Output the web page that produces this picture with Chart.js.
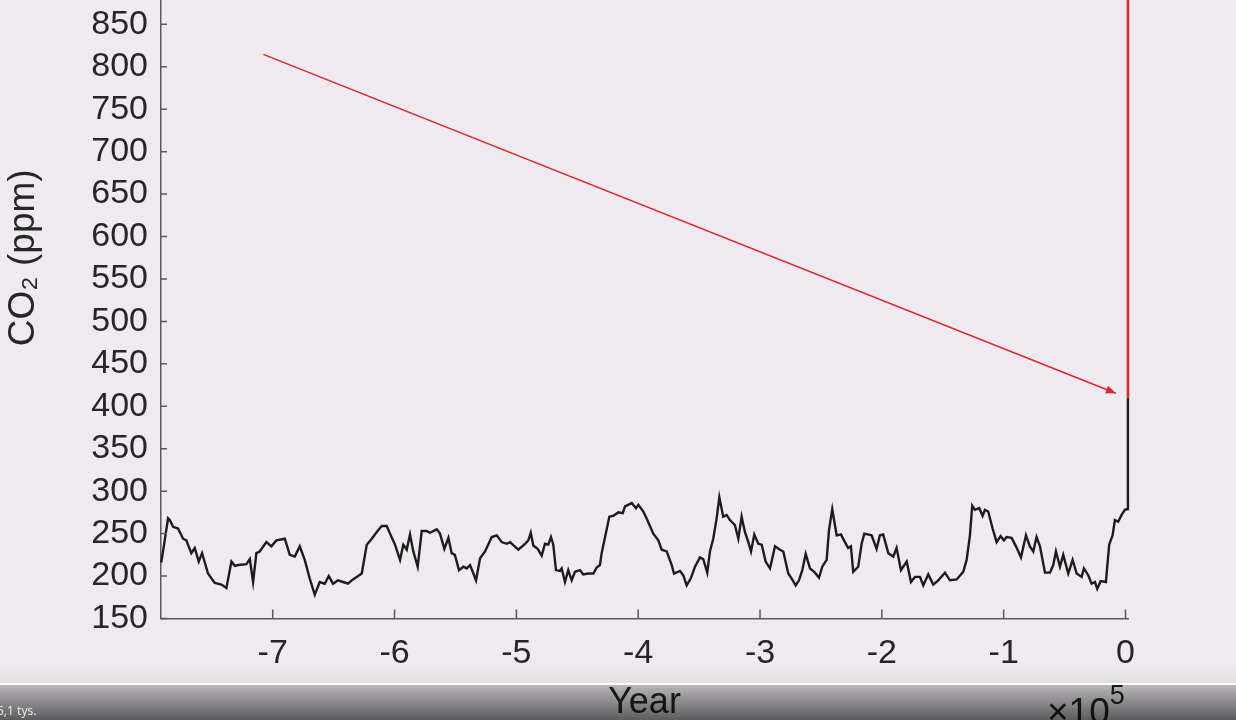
<!DOCTYPE html>
<html><head><meta charset="utf-8">
<script src="https://cdn.jsdelivr.net/npm/chart.js@4.4.1/dist/chart.umd.min.js"></script>
<style>
html,body{margin:0;padding:0;background:#eeeaef;overflow:hidden;width:1236px;height:720px;}
#wrap{position:relative;width:1236px;height:720px;overflow:hidden;background:#eeeaef;}
#c{position:absolute;left:0;top:-103px;}
#exp{position:absolute;left:1047px;top:693px;font-family:"Liberation Sans",Arial,sans-serif;font-size:37px;line-height:37px;color:#262626;white-space:nowrap;}
#exp span{font-size:27px;position:relative;top:-20px;}
#fade{position:absolute;left:0;top:668px;width:1236px;height:15px;background:linear-gradient(rgba(0,0,0,0),rgba(0,0,0,0.05));}
#wline{position:absolute;left:0;top:683px;width:1236px;height:2px;background:rgba(255,255,255,0.9);}
#bar{position:absolute;left:0;top:685px;width:1236px;height:35px;background:linear-gradient(rgba(0,0,0,0.22),rgba(0,0,0,0.61));}
#views{position:absolute;left:-3px;top:702px;font-family:"Noto Sans","Liberation Sans",sans-serif;font-size:12px;color:#e6e6e6;}
</style></head>
<body>
<div id="wrap">
<canvas id="c" width="1236" height="823"></canvas>
<div id="exp">×10<span>5</span></div>
<div id="fade"></div>
<div id="wline"></div>
<div id="bar"></div>
<div id="views">5,1 tys.</div>
</div>
<script>
// Years in thousands of years (kyr), CO2 in ppm
const iceYears = [-791.5,-789.4,-785.9,-784.5,-781.8,-777.7,-773.6,-770.9,-766.8,-764.0,-760.7,-758.0,-753.1,-747.6,-742.1,-738.0,-733.9,-731.1,-728.3,-721.6,-718.8,-716.1,-713.4,-710.7,-705.2,-701.1,-697.0,-690.1,-686.0,-681.9,-677.8,-673.7,-669.6,-665.5,-661.4,-657.3,-654.0,-650.5,-646.4,-642.3,-638.2,-634.1,-629.9,-626.9,-622.8,-618.7,-614.6,-610.5,-606.4,-603.7,-599.6,-595.5,-592.8,-590.0,-587.3,-584.6,-581.0,-577.7,-573.6,-570.9,-565.4,-562.7,-559.1,-555.8,-553.1,-550.5,-547.1,-543.5,-540.8,-538.0,-533.1,-529.8,-525.7,-520.2,-516.1,-512.0,-507.9,-505.2,-498.4,-492.9,-490.2,-488.2,-486.1,-482.5,-479.2,-476.5,-473.8,-471.6,-469.7,-467.5,-464.2,-462.8,-460.1,-457.4,-454.6,-451.9,-447.8,-445.1,-441.0,-436.8,-434.1,-431.4,-430.0,-427.2,-423.7,-420.4,-416.3,-412.7,-410.8,-405.3,-401.8,-399.9,-395.8,-392.5,-387.6,-383.5,-380.7,-376.6,-372.5,-370.6,-365.7,-363.0,-360.2,-356.9,-353.4,-349.3,-346.6,-343.3,-341.1,-338.4,-335.6,-333.4,-330.2,-327.4,-324.7,-320.6,-317.8,-315.1,-312.4,-309.6,-307.4,-304.7,-301.4,-298.6,-295.4,-291.8,-287.7,-283.6,-280.9,-276.8,-274.0,-270.7,-268.0,-265.3,-262.5,-259.0,-254.9,-251.6,-248.9,-245.3,-243.4,-240.7,-237.1,-233.6,-230.3,-227.6,-225.4,-223.5,-219.4,-216.6,-214.4,-208.4,-204.3,-201.6,-198.9,-194.7,-190.6,-187.9,-184.3,-179.6,-176.1,-172.8,-168.7,-166.0,-161.9,-157.8,-153.7,-148.2,-144.1,-138.6,-133.2,-130.4,-127.7,-125.8,-123.6,-120.1,-117.3,-115.4,-112.7,-109.1,-105.8,-102.5,-99.8,-97.6,-93.5,-89.9,-85.8,-81.7,-78.5,-75.7,-73.0,-70.2,-66.1,-62.0,-59.3,-57.1,-53.8,-51.1,-47.0,-43.4,-40.1,-36.0,-34.1,-30.6,-27.8,-25.1,-23.2,-20.4,-16.1,-13.4,-10.6,-8.7,-6.0,-3.2,-0.5,1.7,1.96,2.02];
const iceCO2 = [216,235,268,266,258,256,244,242,227,233,217,227,203,192,190,186,217,212,213,214,220,193,227,229,240,235,242,244,225,223,235,219,197,178,193,191,200,191,195,193,191,196,200,203,237,244,252,259,259,250,237,219,237,231,249,229,211,253,253,251,255,250,232,245,227,225,207,211,209,213,195,221,229,246,248,240,238,240,231,238,242,251,236,232,224,238,237,246,237,207,206,209,193,207,195,205,207,202,203,203,210,213,227,246,270,271,275,274,282,286,280,284,276,266,250,242,231,229,213,203,206,201,189,197,211,222,220,204,229,244,268,293,270,272,266,260,244,270,252,240,229,249,238,237,217,209,235,231,229,203,197,189,195,207,226,209,204,198,211,219,254,279,248,249,240,233,235,205,211,238,250,248,232,248,249,227,223,233,207,217,193,199,199,189,202,190,195,204,195,196,205,219,248,283,278,280,271,278,276,256,240,247,242,246,245,235,222,248,235,229,246,235,204,204,213,229,211,225,203,219,203,199,209,201,191,193,185,194,193,237,248,266,264,272,278,279,317,410];
const projYears = [2.02, 2.02];
const projCO2 = [410, 1000];
const arrowYears = [-707.7, -7.9];
const arrowCO2 = [814.6, 415.5];
const xTicks = [-700,-600,-500,-400,-300,-200,-100,0];
const xTickLabels = ['-7','-6','-5','-4','-3','-2','-1','0'];
const yTicks = [150,200,250,300,350,400,450,500,550,600,650,700,750,800,850,900,950,1000];

const FONT = '"Liberation Sans", Arial, Helvetica, sans-serif';
const AXIS_COLOR = '#5a5a5a';
const TEXT_COLOR = '#262626';
const ARROW_COLOR = '#e0262b';

const pts = (xs, ys) => xs.map((x, i) => ({x: x, y: ys[i]}));

const inwardTicks = {
  id: 'inwardTicks',
  afterDatasetsDraw(chart) {
    const {ctx, chartArea: a, scales: {x, y}} = chart;
    ctx.save();
    ctx.strokeStyle = AXIS_COLOR;
    ctx.lineWidth = 1.5;
    ctx.beginPath();
    x.ticks.forEach(t => { const px = x.getPixelForValue(t.value); ctx.moveTo(px, a.bottom); ctx.lineTo(px, a.bottom - 9); });
    y.ticks.forEach(t => { const py = y.getPixelForValue(t.value); ctx.moveTo(a.left, py); ctx.lineTo(a.left + 6, py); });
    ctx.stroke();
    ctx.restore();
  }
};

const arrowHead = {
  id: 'arrowHead',
  afterDatasetsDraw(chart) {
    const meta = chart.getDatasetMeta(2);
    const p0 = meta.data[0], p1 = meta.data[1];
    if (!p0 || !p1) return;
    const ang = Math.atan2(p1.y - p0.y, p1.x - p0.x);
    const L = 10, W = 4;
    const c = Math.cos(ang), s = Math.sin(ang);
    const ctx = chart.ctx;
    ctx.save();
    ctx.fillStyle = ARROW_COLOR;
    ctx.beginPath();
    ctx.moveTo(p1.x, p1.y);
    ctx.lineTo(p1.x - L * c + W * s, p1.y - L * s - W * c);
    ctx.lineTo(p1.x - L * c - W * s, p1.y - L * s + W * c);
    ctx.closePath();
    ctx.fill();
    ctx.restore();
  }
};

new Chart(document.getElementById('c'), {
  type: 'line',
  data: {
    datasets: [
      {data: pts(iceYears, iceCO2), borderColor: '#1c1c1c', borderWidth: 2.4, pointRadius: 0, tension: 0, clip: 4},
      {data: pts(projYears, projCO2), borderColor: '#e3262b', borderWidth: 2.6, pointRadius: 0, tension: 0, clip: 4},
      {data: pts(arrowYears, arrowCO2), borderColor: ARROW_COLOR, borderWidth: 1.6, pointRadius: 0, tension: 0}
    ]
  },
  options: {
    responsive: false,
    animation: false,
    devicePixelRatio: 1,
    layout: {padding: {left: 0, right: 108, top: 0, bottom: 0}},
    plugins: {legend: {display: false}, tooltip: {enabled: false}},
    scales: {
      x: {
        type: 'linear', min: -791.7, max: 2.05,
        afterBuildTicks: s => { s.ticks = xTicks.map(v => ({value: v})); },
        afterFit: s => { s.height = 101.5; s.paddingLeft = 0; s.paddingRight = 0; },
        ticks: {callback: (v, i) => xTickLabels[i], font: {family: FONT, size: 34}, color: TEXT_COLOR, padding: 15, maxRotation: 0, autoSkip: false},
        grid: {display: true, drawOnChartArea: false, drawTicks: false},
        border: {display: true, color: AXIS_COLOR, width: 1.5},
        title: {display: true, text: 'Year', font: {family: FONT, size: 36, lineHeight: 1}, color: TEXT_COLOR, padding: {top: 0, bottom: -1}}
      },
      y: {
        type: 'linear', min: 150, max: 1000,
        afterBuildTicks: s => { s.ticks = yTicks.map(v => ({value: v})); },
        afterFit: s => { s.width = 161; s.paddingTop = 0; s.paddingBottom = 0; },
        ticks: {font: {family: FONT, size: 34}, color: TEXT_COLOR, padding: 13, autoSkip: false},
        grid: {display: true, drawOnChartArea: false, drawTicks: false},
        border: {display: true, color: AXIS_COLOR, width: 1.5},
        title: {display: true, text: 'CO₂ (ppm)', font: {family: FONT, size: 37}, color: TEXT_COLOR, padding: {top: 2, bottom: 0}}
      }
    }
  },
  plugins: [inwardTicks, arrowHead]
});
</script>
</body></html>
